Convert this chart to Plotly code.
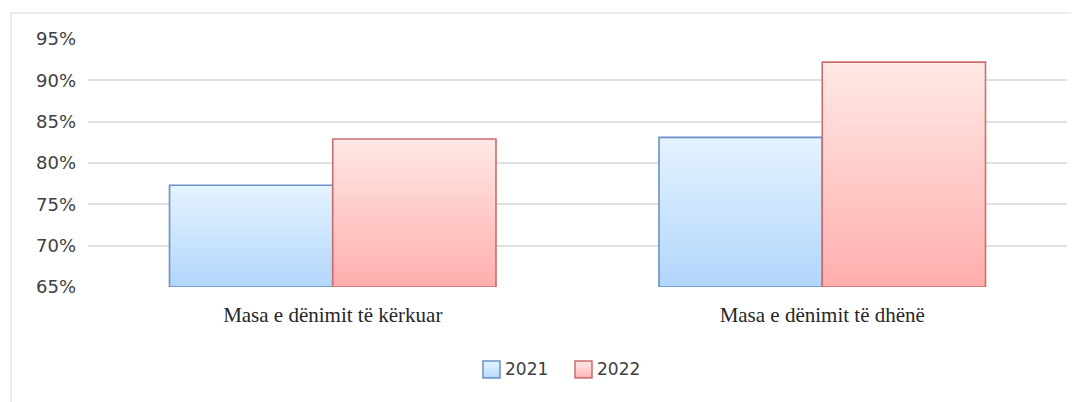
import plotly.graph_objects as go

categories = ["Masa e dënimit të kërkuar", "Masa e dënimit të dhënë"]
series_names = ["2021", "2022"]
values_2021 = [77.3, 83.1]
values_2022 = [82.9, 92.2]
y_ticks = [65, 70, 75, 80, 85, 90, 95]
y_tick_labels = ["65%", "70%", "75%", "80%", "85%", "90%", "95%"]

BASE = 65
N = 40
styles = {
    "2021": dict(top=(228, 243, 255), bottom=(178, 214, 251), line="#6a90c6"),
    "2022": dict(top=(255, 233, 230), bottom=(255, 174, 172), line="#cc6c6c"),
}


def mix(c1, c2, t):
    return "rgb(%d,%d,%d)" % tuple(round(a + (b - a) * t) for a, b in zip(c1, c2))


fig = go.Figure()
for name, vals in zip(series_names, [values_2021, values_2022]):
    st = styles[name]
    for k in range(N):
        frac = 1 - k / N  # height fraction of this overlay
        col = mix(st["bottom"], st["top"], frac - 0.5 / N)
        fig.add_trace(go.Bar(
            x=categories, y=[(v - BASE) * frac for v in vals], base=BASE,
            offsetgroup=name, marker=dict(color=col, line=dict(width=0)),
            showlegend=False, hoverinfo="skip"))
    fig.add_trace(go.Bar(
        x=categories, y=[v - BASE for v in vals], base=BASE, offsetgroup=name,
        name=name, marker=dict(color="rgba(0,0,0,0)", line=dict(color=st["line"], width=1.6)),
        showlegend=False))

# page offset (browser body margin)
OFF = 8
PL, PT, PW, PH = 88, 39, 979, 248  # plot area in page pixels


def px_x(x):
    return (x - PL) / PW


def px_y(y):
    return (PT + PH - y) / PH


# frame of the chart area
fig.add_shape(type="rect", xref="paper", yref="paper",
              x0=px_x(11), x1=1.2, y0=-1.0, y1=px_y(13),
              line=dict(color="#d9d9d9", width=1), fillcolor="rgba(0,0,0,0)", layer="below")

# custom legend
legend_items = [("2021", 483), ("2022", 575)]
for name, px in legend_items:
    st = styles[name]
    x0 = px_x(px)
    x1 = px_x(px + 17)
    ytop = px_y(361)
    ybot = px_y(378)
    S = 8
    for i in range(S):
        ya = ytop + (ybot - ytop) * i / S
        yb = ytop + (ybot - ytop) * (i + 1) / S
        fig.add_shape(type="rect", xref="paper", yref="paper", x0=x0, x1=x1, y0=yb, y1=ya,
                      line=dict(width=0), fillcolor=mix(st["top"], st["bottom"], (i + 0.5) / S))
    fig.add_shape(type="rect", xref="paper", yref="paper", x0=x0, x1=x1, y0=ybot, y1=ytop,
                  line=dict(color=st["line"], width=1.5), fillcolor="rgba(0,0,0,0)")
    fig.add_annotation(xref="paper", yref="paper", x=px_x(px + 20), y=(ytop + ybot) / 2,
                       text=name, showarrow=False, xanchor="left", yanchor="middle",
                       font=dict(family="DejaVu Sans", size=17, color="#404040"))

fig.update_layout(
    width=1079 - OFF, height=402 - OFF,
    margin=dict(l=PL - OFF, r=1079 - PL - PW, t=PT - OFF, b=402 - PT - PH),
    paper_bgcolor="white", plot_bgcolor="white",
    barmode="group", bargap=0.333, bargroupgap=0,
    showlegend=False,
    xaxis=dict(showgrid=False, showline=False, zeroline=False, ticks="",
               tickfont=dict(family="Liberation Serif", size=21, color="#262626"),
               ticklabelstandoff=13),
    yaxis=dict(range=[65, 95], tickvals=y_ticks, ticktext=y_tick_labels,
               showgrid=True, gridcolor="#e0e0e0", gridwidth=1.5, zeroline=False,
               showline=False, ticks="",
               tickfont=dict(family="DejaVu Sans", size=18, color="#404040"),
               ticklabelstandoff=11),
)

fig.write_html("out.html")
